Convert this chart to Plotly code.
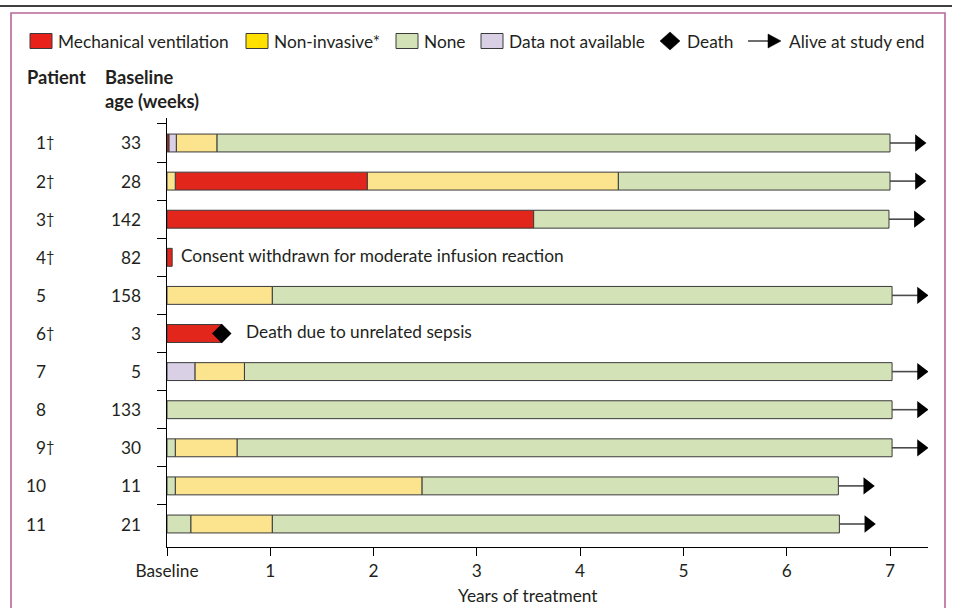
import plotly.graph_objects as go

# ---- data -------------------------------------------------------------
patient_ids = ["1", "2", "3", "4", "5", "6", "7", "8", "9", "10", "11"]
has_dagger = [True, True, True, True, False, True, False, False, True, False, False]
baseline_age_weeks = [33, 28, 142, 82, 158, 3, 5, 133, 30, 11, 21]

# ventilation state sequence per patient and the time (years) each state ends
segment_states = [
    ["mech", "na", "niv", "none"],
    ["niv", "mech", "niv", "none"],
    ["mech", "none"],
    ["mech"],
    ["niv", "none"],
    ["mech"],
    ["na", "niv", "none"],
    ["none"],
    ["none", "niv", "none"],
    ["none", "niv", "none"],
    ["none", "niv", "none"],
]
segment_ends = [
    [0.02, 0.09, 0.485, 7.0],
    [0.08, 1.94, 4.37, 7.0],
    [3.55, 6.99],
    [0.05],
    [1.02, 7.02],
    [0.53],
    [0.27, 0.75, 7.02],
    [7.02],
    [0.08, 0.68, 7.02],
    [0.08, 2.47, 6.50],
    [0.23, 1.02, 6.51],
]
outcome = ["alive", "alive", "alive", "withdrawn", "alive", "death",
           "alive", "alive", "alive", "alive", "alive"]
notes = {
    "4": "Consent withdrawn for moderate infusion reaction",
    "6": "Death due to unrelated sepsis",
}

state_names = {
    "mech": "Mechanical ventilation",
    "niv": "Non-invasive*",
    "none": "None",
    "na": "Data not available",
}
state_order = ["mech", "niv", "none", "na"]
x_tick_labels = ["Baseline", "1", "2", "3", "4", "5", "6", "7"]
x_tick_values = [0, 1, 2, 3, 4, 5, 6, 7]

# ---- styling ----------------------------------------------------------
FONT = "Lato"
FS = 17.3
FS_BOLD = 18.3
TXT = "#231f20"
bar_colors = {"mech": "#e2261b", "niv": "#fce48e", "none": "#d3e2b7", "na": "#d9d0e6"}
legend_colors = {"mech": "#e8221a", "niv": "#ffe000", "none": "#d3e2b7", "na": "#d9d0e6"}
EDGE = "#3a3a3a"
W, H = 960, 608


def px(x):
    return x / W


def py(y):
    return 1 - y / H


def font(size=FS):
    return dict(family=FONT, size=size, color=TXT)


fig = go.Figure()

rows = list(range(1, len(patient_ids) + 1))

# stacked timeline segments, one trace per ventilation state
for st in state_order:
    ys, bases, lens = [], [], []
    for r, states, ends in zip(rows, segment_states, segment_ends):
        start = 0.0
        for s, e in zip(states, ends):
            if s == st:
                ys.append(r)
                bases.append(start)
                lens.append(e - start)
            start = e
    fig.add_trace(go.Bar(
        orientation="h", y=ys, x=lens, base=bases, width=0.47,
        name=state_names[st], showlegend=False,
        marker=dict(color=bar_colors[st], line=dict(color=EDGE, width=1)),
        hoverinfo="skip",
    ))

# arrows for patients alive at study end, diamond for death
arrow_x, arrow_y, death_x, death_y = [], [], [], []
for r, ends, oc in zip(rows, segment_ends, outcome):
    end = ends[-1]
    if oc == "alive":
        fig.add_shape(type="line", x0=end, x1=end + 0.27, y0=r, y1=r,
                      line=dict(color="#4a4a4a", width=1.6), layer="below")
        arrow_x.append(end + 0.28)
        arrow_y.append(r)
    elif oc == "death":
        death_x.append(end)
        death_y.append(r)

fig.add_trace(go.Scatter(x=arrow_x, y=arrow_y, mode="markers", showlegend=False,
                         marker=dict(symbol="triangle-right", size=15, color="black"),
                         hoverinfo="skip"))
fig.add_trace(go.Scatter(x=death_x, y=death_y, mode="markers", showlegend=False,
                         marker=dict(symbol="diamond", size=15, color="black"),
                         hoverinfo="skip"))

# notes next to short bars (pushed past the death marker where there is one)
for r, pid, ends, oc in zip(rows, patient_ids, segment_ends, outcome):
    if pid in notes:
        fig.add_annotation(x=ends[-1], y=r, text=notes[pid], showarrow=False,
                           xanchor="left", yanchor="middle", yshift=2,
                           xshift=22 if oc == "death" else 7, font=font())

# patient ids and baseline ages
for r, pid, dag, age in zip(rows, patient_ids, has_dagger, baseline_age_weeks):
    fig.add_annotation(xref="paper", x=px(47.5), y=r, text=pid, showarrow=False,
                       xanchor="right", yanchor="middle", font=font())
    if dag:
        fig.add_annotation(xref="paper", x=px(44), y=r, text="\u2020", showarrow=False,
                           xanchor="left", yanchor="middle", yshift=1, font=font(14.5))
    fig.add_annotation(xref="paper", x=px(143), y=r, text=str(age), showarrow=False,
                       xanchor="right", yanchor="middle", font=font())

# column headers
for x, y, t in [(25, 77, "<b>Patient</b>"), (103, 77, "<b>Baseline</b>"),
                (103, 101, "<b>age (weeks)</b>")]:
    fig.add_annotation(xref="paper", yref="paper", x=px(x), y=py(y), text=t,
                       showarrow=False, xanchor="left", yanchor="middle",
                       font=font(FS_BOLD))

# x axis title
fig.add_annotation(xref="paper", yref="paper", x=px(528), y=py(595), text="Years of treatment",
                   showarrow=False, xanchor="center", yanchor="middle", font=font())

# legend row
LY = 41
legend_boxes = [(30, "mech"), (246, "niv"), (396, "none"), (481, "na")]
for x0, st in legend_boxes:
    fig.add_shape(type="rect", xref="paper", yref="paper",
                  x0=px(x0), x1=px(x0 + 22), y0=py(LY - 7.5), y1=py(LY + 7.5),
                  fillcolor=legend_colors[st], line=dict(color=EDGE, width=1))
    fig.add_annotation(xref="paper", yref="paper", x=px(x0 + 26), y=py(LY),
                       text=state_names[st], showarrow=False, xanchor="left",
                       yanchor="middle", font=font())


def paper_path(points):
    return "M " + " L ".join(f"{px(x):.5f},{py(y):.5f}" for x, y in points) + " Z"


# legend: death diamond
fig.add_shape(type="path", xref="paper", yref="paper",
              path=paper_path([(660, LY), (670, LY - 9), (680, LY), (670, LY + 9)]),
              fillcolor="black", line=dict(color="black", width=0.5))
fig.add_annotation(xref="paper", yref="paper", x=px(685), y=py(LY), text="Death",
                   showarrow=False, xanchor="left", yanchor="middle", font=font())
# legend: alive arrow
fig.add_shape(type="line", xref="paper", yref="paper", x0=px(748), x1=px(770),
              y0=py(LY), y1=py(LY), line=dict(color="#4a4a4a", width=1.6))
fig.add_shape(type="path", xref="paper", yref="paper",
              path=paper_path([(768, LY - 7), (781, LY), (768, LY + 7)]),
              fillcolor="black", line=dict(color="black", width=0.5))
fig.add_annotation(xref="paper", yref="paper", x=px(787), y=py(LY), text="Alive at study end",
                   showarrow=False, xanchor="left", yanchor="middle", font=font())

# frame
fig.add_shape(type="line", xref="paper", yref="paper", x0=0, x1=px(952), y0=py(6), y1=py(6),
              line=dict(color="black", width=1.6))
fig.add_shape(type="rect", xref="paper", yref="paper", x0=px(11), x1=px(945),
              y0=py(640), y1=py(13), line=dict(color="#b8679a", width=1.6))

# axis geometry
X0_PX, X7_PX, XEND_PX = 167, 890, 928
scale = (X7_PX - X0_PX) / 7.0
Y_TOP_PX, Y_BOT_PX = 118, 547
ROW1_PX, ROW11_PX = 143, 524
row_px = (ROW11_PX - ROW1_PX) / 10.0
y_top_val = 1 - (ROW1_PX - Y_TOP_PX) / row_px
y_bot_val = 1 + (Y_BOT_PX - ROW1_PX) / row_px

fig.update_layout(
    width=W, height=H, margin=dict(l=0, r=0, t=0, b=0, autoexpand=False),
    paper_bgcolor="white", plot_bgcolor="white",
    barmode="overlay", showlegend=False,
    xaxis=dict(domain=[px(X0_PX), px(XEND_PX)], range=[0, (XEND_PX - X0_PX) / scale],
               tickvals=x_tick_values, ticktext=x_tick_labels, ticks="outside",
               ticklen=8, tickwidth=1, tickcolor="black", showline=True,
               linecolor="black", linewidth=1, showgrid=False, zeroline=False,
               tickfont=font(), fixedrange=True, automargin=False),
    yaxis=dict(domain=[1 - Y_BOT_PX / H, 1 - Y_TOP_PX / H], range=[y_bot_val, y_top_val],
               tickvals=[r + 0.5 for r in range(0, 11)], showticklabels=False,
               ticks="outside", ticklen=9, tickwidth=1, tickcolor="black",
               showline=True, linecolor="black", linewidth=1, showgrid=False,
               zeroline=False, fixedrange=True, automargin=False),
)

fig.write_html("out.html")
